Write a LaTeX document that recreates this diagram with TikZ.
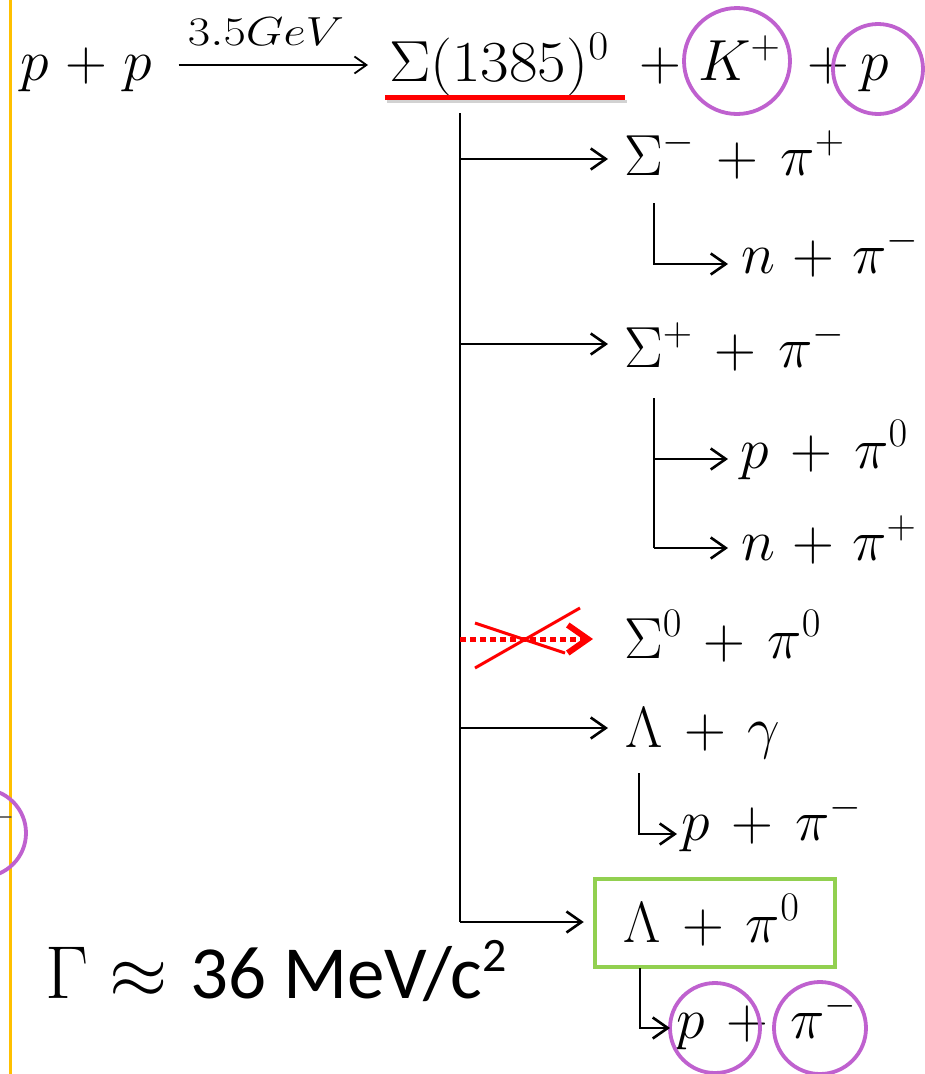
\RequirePackage{fix-cm}
\documentclass[tikz,border=0pt]{standalone}
\usepackage{fontspec}
\newfontfamily\carlito{Carlito}
\usepackage{graphicx}
\usetikzlibrary{arrows.meta,calc}
\definecolor{ppurple}{RGB}{191,97,207}
\definecolor{pgreen}{RGB}{146,208,80}
\definecolor{pyellow}{RGB}{255,192,0}
\begin{document}
\begin{tikzpicture}[x=1pt,y=-1pt,
  txt/.style={anchor=base west, inner sep=0pt, font={\fontsize{58}{70}\selectfont\medmuskip=6.8mu}},
  toptxt/.style={anchor=base west, inner sep=0pt, font={\fontsize{58}{70}\selectfont\medmuskip=5.2mu}},
  arr/.style={line width=2.6pt, -{Straight Barb[length=15pt,width=21pt]}},
  toparr/.style={line width=1.8pt, -{Straight Barb[length=12pt,width=17pt]}},
  reddot/.style={red, line width=5pt, dash pattern=on 6pt off 4pt, -{Straight Barb[length=20pt,width=28pt,line width=6pt]}},
  ring/.style={draw=ppurple, line width=3.8pt, circle, inner sep=0pt},
  plain/.style={line width=2.6pt},
]
\useasboundingbox (0,0) rectangle (925,1074);
\fill[white] (0,0) rectangle (925,1074);
% yellow margin line
\draw[pyellow, line width=3pt] (10,-5) -- (10,1080);

% top reaction
\node[toptxt] (pp) at (20,80) {$p+p$};
\node[toptxt] (sig) at (389,81) {\scalebox{1.07}[1]{$\Sigma(1385)^0$}};
\node[anchor=base, inner sep=0pt, font=\fontsize{58}{70}\selectfont] (lbl) at (266,45) {\scalebox{1.2}[1]{$\scriptstyle 3.5GeV$}};
\draw[toparr] ($(pp.base east)+(26,-15)$) -- ($(sig.base west)+(-21,-16)$);
\draw[gray!35, line width=3.5pt] (387,101.5) -- (627,101.5);
\draw[red, line width=5pt] (385,97.5) -- (625,97.5);
\node[toptxt] (plus1) at (639,80) {$+$};
\node[toptxt] (K) at (698,80) {$K^+$};
\node[toptxt] (plus2) at (807,80) {$+$};
\node[toptxt] (pf) at (860,80) {$p$};
\node[ring, minimum size=106pt] (cK) at (737,61) {};
\node[ring, minimum size=90pt] (cp1) at (878,69) {};

% decay products
\node[txt] (s1)  at (624,175) {$\Sigma^-+\pi^+$};
\node[txt, font={\fontsize{58}{70}\selectfont\medmuskip=5.5mu}] (s1a) at (741,273) {$n+\pi^-$};
\node[txt] (s2)  at (624,367) {$\Sigma^++\pi^-$};
\node[txt] (s2a) at (740,468) {$p+\pi^0$};
\node[txt, font={\fontsize{58}{70}\selectfont\medmuskip=5.5mu}] (s2b) at (741,560) {$n+\pi^+$};
\node[txt] (s3)  at (624,658) {$\Sigma^0+\pi^0$};
\node[txt] (s4)  at (625,747) {$\Lambda+\gamma$};
\node[txt] (s4a) at (681,840) {$p+\pi^-$};
\node[txt] (s5)  at (623,942) {$\Lambda+\pi^0$};
\node[draw=pgreen, line width=4.5pt, minimum width=240pt, minimum height=88pt, inner sep=0pt] (g) at (715,923) {};
\node[txt] (s5a) at (676,1038) {$p+\pi^-$};
\node[ring, minimum size=90pt] (cp2) at (715,1028) {};
\node[ring, minimum size=92pt] (cpi) at (820,1028) {};

% main trunk
\coordinate (v0) at (460,113);
\coordinate (b1) at (460,159);
\coordinate (b2) at (460,344);
\coordinate (b3) at (460,639);
\coordinate (b4) at (460,728);
\coordinate (b5) at (460,922);
\draw[plain] (v0) -- (b5);
\draw[arr, shorten >=16pt] (b1) -- (b1 -| s1.west);
\draw[arr, shorten >=16pt] (b2) -- (b2 -| s2.west);
\draw[reddot, shorten >=31pt] (b3) -- (b3 -| s3.west);
\draw[red, line width=3pt] (475,668) -- (580,608);
\draw[red, line width=3pt] (475,623) -- (565,653);
\draw[arr, shorten >=17pt] (b4) -- (b4 -| s4.west);
\draw[arr, shorten >=9pt] (b5) -- (b5 -| g.west);

% secondary decays
\coordinate (c1) at (654,203);
\coordinate (e1) at (654,264);
\draw[arr, shorten >=13pt] (c1) -- (e1) -- (e1 -| s1a.west);
\coordinate (c2) at (654,398);
\coordinate (e2) at (654,459);
\coordinate (e3) at (654,548);
\draw[plain] (c2) -- (e3);
\draw[arr, shorten >=12pt] (e2) -- (e2 -| s2a.west);
\draw[arr, shorten >=13pt] (e3) -- (e3 -| s2b.west);
\coordinate (c4) at (639,773);
\coordinate (e4) at (639,834);
\draw[arr, shorten >=4pt] (c4) -- (e4) -- (e4 -| s4a.west);
\coordinate (c5) at (640,968);
\coordinate (e5) at (640,1028);
\draw[arr, shorten >=6pt] (c5) -- (e5) -- (e5 -| s5a.west);

% left edge fragment
\node[ring, minimum size=88pt] (cl) at (-18,833) {};
\node[inner sep=0pt, text=black!70, font=\fontsize{40}{48}\selectfont] (mn) at (0,817) {$-$};

% width
\node[anchor=base west, inner sep=0pt, font=\fontsize{75}{90}\selectfont] (gam) at (45,998) {$\Gamma\approx$ {\carlito 36 MeV/c\raisebox{0.36em}{\fontsize{48}{56}\selectfont 2}}};
\end{tikzpicture}
\end{document}
